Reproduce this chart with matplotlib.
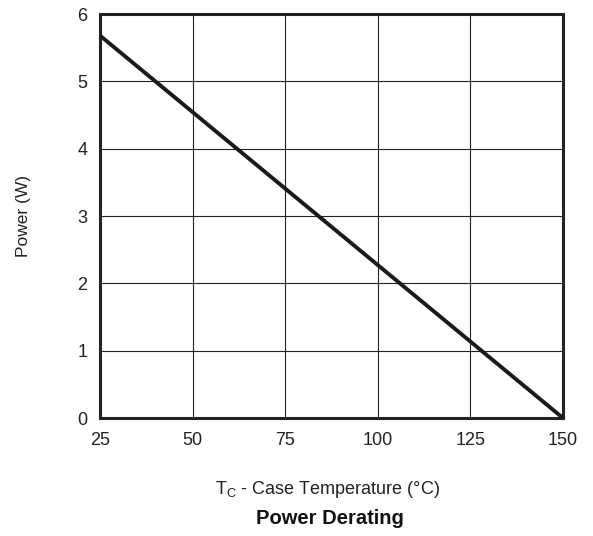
import numpy as np
import matplotlib
matplotlib.use("Agg")
import matplotlib.pyplot as plt

plt.rcParams['font.family'] = ['Liberation Sans', 'DejaVu Sans']
plt.rcParams['mathtext.fontset'] = 'custom'
plt.rcParams['mathtext.rm'] = 'Liberation Sans'

# derating curve end points
temp_c = [25, 150]
power_w = [5.68, 0]
x_ticks = [25, 50, 75, 100, 125, 150]
y_ticks = [0, 1, 2, 3, 4, 5, 6]

fig = plt.figure(figsize=(5.93, 5.36), dpi=100)
ax = fig.add_axes([0.1686, 0.2201, 0.7808, 0.7537])

ax.plot(temp_c, power_w, color='#1a1a1a', lw=2.8, solid_capstyle='butt', zorder=3)

ax.set_xlim(25, 150)
ax.set_ylim(0, 6)
ax.set_xticks(x_ticks)
ax.set_yticks(y_ticks)
ax.tick_params(length=0, labelsize=13, colors='#222222')
ax.tick_params(axis='x', pad=10)
ax.tick_params(axis='y', pad=9)
ax.grid(True, color='#222222', lw=0.8)
for s in ax.spines.values():
    s.set_linewidth(2.2)
    s.set_color('#222222')

ax.set_ylabel('Power (W)', fontsize=12.5, color='#222222', va='center')
ax.yaxis.set_label_coords(-0.166, 0.5)
ax.set_xlabel('T$_\\mathregular{C}$ - Case Temperature (°C)', fontsize=13,
              color='#222222', va='center')
ax.xaxis.set_label_coords(0.492, -0.178)
fig.text(0.556, 0.032, 'Power Derating', ha='center', va='center', fontsize=14.5,
         fontweight='bold', color='#111111')

fig.savefig('out.png', dpi=100)
